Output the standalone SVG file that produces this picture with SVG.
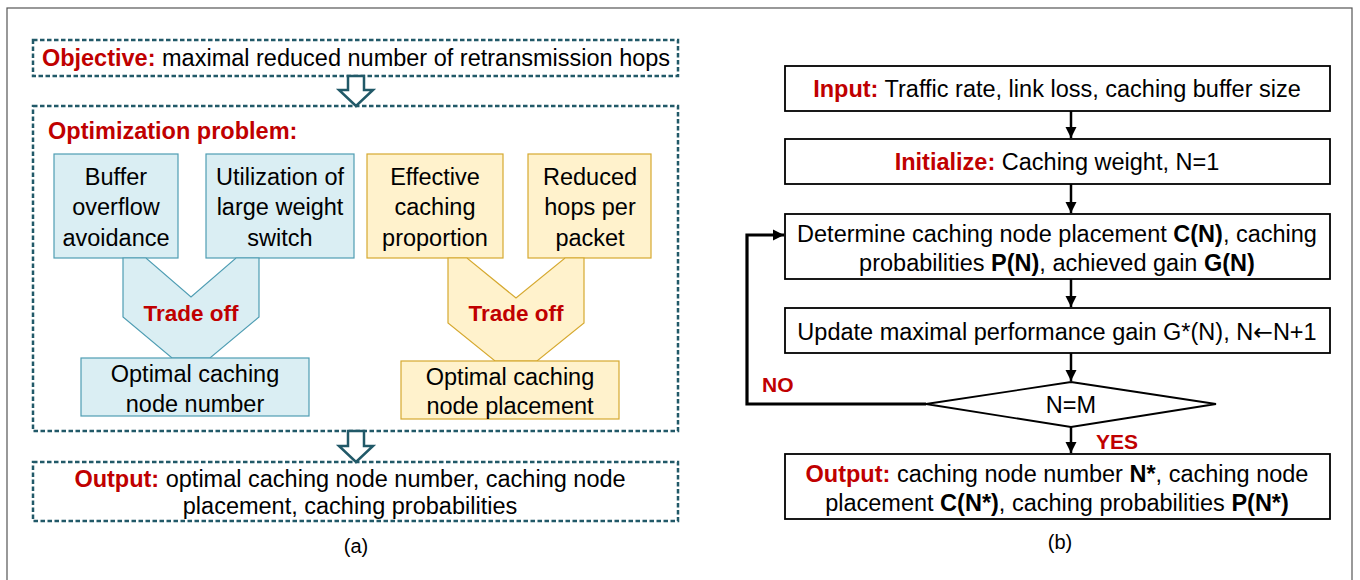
<svg xmlns="http://www.w3.org/2000/svg" width="1360" height="580" viewBox="0 0 1360 580">
<defs>
<style>
text{font-family:"Liberation Sans",Arial,sans-serif;fill:#000;}
.red{fill:#c00000;font-weight:bold;}
.b{font-weight:bold;}
.dash{fill:none;stroke:#215968;stroke-width:2.5;stroke-dasharray:4.5 2.5;}
.blue{fill:#daeef3;stroke:#4f9db3;stroke-width:1.2;}
.yel{fill:#fff2cc;stroke:#d6a930;stroke-width:1.2;}
.box{fill:#fff;stroke:#000;stroke-width:1.8;}
.hollow{fill:#fff;stroke:#215968;stroke-width:2.5;stroke-linejoin:miter;}
.arr{fill:none;stroke:#000;stroke-width:2.5;}
.t{font-size:23.5px;}
.t22{font-size:22.5px;}
.t21{font-size:21px;}
.t20{font-size:20px;}
.sym{font-family:"DejaVu Sans",sans-serif;}
</style>
<marker id="ah" markerUnits="userSpaceOnUse" markerWidth="12" markerHeight="12" refX="11" refY="6" orient="auto">
<path d="M0,0.5 L11,6 L0,11.5 z" fill="#000"/>
</marker>
</defs>
<rect x="7" y="8" width="1345" height="600" fill="#fff" stroke="#555" stroke-width="1.2"/>

<g id="objective">
<rect class="dash" x="33" y="40" width="645" height="36"/>
<text class="t" x="356" y="66" text-anchor="middle"><tspan class="red">Objective:</tspan> maximal reduced number of retransmission hops</text>
</g>

<g id="optimization">
<rect class="dash" x="33" y="106" width="645" height="325"/>
<text class="red t" x="48" y="139">Optimization problem:</text>
</g>

<g id="buffer">
<rect class="blue" x="54" y="154" width="124" height="104"/>
<text class="t" x="116" text-anchor="middle"><tspan x="116" y="185">Buffer</tspan><tspan x="116" y="215">overflow</tspan><tspan x="116" y="246">avoidance</tspan></text>
</g>
<g id="utilization">
<rect class="blue" x="206" y="154" width="148" height="104"/>
<text class="t" x="280" text-anchor="middle"><tspan x="280" y="185">Utilization of</tspan><tspan x="280" y="215">large weight</tspan><tspan x="280" y="246">switch</tspan></text>
</g>
<g id="tradeoff1">
<path class="blue" d="M123,258 L146,258 L191,297 L236,258 L259,258 L259,317 L210,358 L172,358 L123,317 Z"/>
<text class="red t22" x="191" y="321" text-anchor="middle">Trade off</text>
</g>
<g id="nodenumber">
<rect class="blue" x="81" y="358" width="228" height="58"/>
<text class="t" x="195" text-anchor="middle"><tspan x="195" y="382">Optimal caching</tspan><tspan x="195" y="412">node number</tspan></text>
</g>

<g id="effective">
<rect class="yel" x="367" y="154" width="136" height="104"/>
<text class="t" x="435" text-anchor="middle"><tspan x="435" y="185">Effective</tspan><tspan x="435" y="215">caching</tspan><tspan x="435" y="246">proportion</tspan></text>
</g>
<g id="reduced">
<rect class="yel" x="528" y="154" width="123" height="104"/>
<text class="t" x="590" text-anchor="middle"><tspan x="590" y="185">Reduced</tspan><tspan x="590" y="215">hops per</tspan><tspan x="590" y="246">packet</tspan></text>
</g>
<g id="tradeoff2">
<path class="yel" d="M448,258 L467,258 L516,298 L565,258 L584,258 L584,323 L537,361 L495,361 L448,323 Z"/>
<text class="red t22" x="516" y="321" text-anchor="middle">Trade off</text>
</g>
<g id="nodeplacement">
<rect class="yel" x="401" y="361" width="218" height="58"/>
<text class="t" x="510" text-anchor="middle"><tspan x="510" y="385">Optimal caching</tspan><tspan x="510" y="414">node placement</tspan></text>
</g>

<g id="output-a">
<rect class="dash" x="33" y="462" width="645" height="59"/>
<text class="t" x="350" y="487" text-anchor="middle"><tspan class="red">Output:</tspan> optimal caching node number, caching node</text>
<text class="t" x="350" y="514" text-anchor="middle">placement, caching probabilities</text>
</g>
<text class="t20" x="356" y="553" text-anchor="middle">(a)</text>

<g id="input">
<rect class="box" x="785" y="66" width="545" height="45"/>
<text class="t" x="1057" y="97" text-anchor="middle"><tspan class="red">Input:</tspan> Traffic rate, link loss, caching buffer size</text>
</g>
<g id="initialize">
<rect class="box" x="785" y="139" width="545" height="45"/>
<text class="t" x="1057" y="170" text-anchor="middle"><tspan class="red">Initialize:</tspan> Caching weight, N=1</text>
</g>
<g id="determine">
<rect class="box" x="785" y="214" width="545" height="65"/>
<text class="t" x="1057" y="242" text-anchor="middle">Determine caching node placement <tspan class="b">C(N)</tspan>, caching</text>
<text class="t" x="1057" y="271" text-anchor="middle">probabilities <tspan class="b">P(N)</tspan>, achieved gain <tspan class="b">G(N)</tspan></text>
</g>
<g id="update">
<rect class="box" x="785" y="308" width="545" height="45"/>
<text class="t" x="1057" y="340" text-anchor="middle">Update maximal performance gain G*(N), N<tspan class="sym">←</tspan>N+1</text>
</g>
<g id="decision">
<path class="box" d="M1071,382 L1216,404 L1071,427 L926,404 Z" stroke-width="1.5"/>
<text class="t" x="1071" y="413" text-anchor="middle">N=M</text>
</g>
<g id="output-b">
<rect class="box" x="785" y="454" width="545" height="65"/>
<text class="t" x="1057" y="482" text-anchor="middle"><tspan class="red">Output:</tspan> caching node number <tspan class="b">N*</tspan>, caching node</text>
<text class="t" x="1057" y="511" text-anchor="middle">placement <tspan class="b">C(N*)</tspan>, caching probabilities <tspan class="b">P(N*)</tspan></text>
</g>
<text class="t20" x="1060" y="549" text-anchor="middle">(b)</text>

<g id="connectors">
<path class="hollow" d="M348,76 L364,76 L364,90 L373,90 L356,106 L339,90 L348,90 Z"/>
<path class="hollow" d="M348,431 L364,431 L364,446 L373,446 L356,462 L339,446 L348,446 Z"/>
<line class="arr" x1="1071" y1="111" x2="1071" y2="138" marker-end="url(#ah)"/>
<line class="arr" x1="1071" y1="184" x2="1071" y2="213" marker-end="url(#ah)"/>
<line class="arr" x1="1071" y1="279" x2="1071" y2="307" marker-end="url(#ah)"/>
<line class="arr" x1="1071" y1="353" x2="1071" y2="381" marker-end="url(#ah)"/>
<line class="arr" x1="1071" y1="427" x2="1071" y2="453" marker-end="url(#ah)"/>
<path d="M926,404 L747,404 L747,235 L784,235" fill="none" stroke="#000" stroke-width="3.2" marker-end="url(#ah)"/>
<text class="red t21" x="762" y="392">NO</text>
<text class="red t21" x="1096" y="449">YES</text>
</g>
</svg>
